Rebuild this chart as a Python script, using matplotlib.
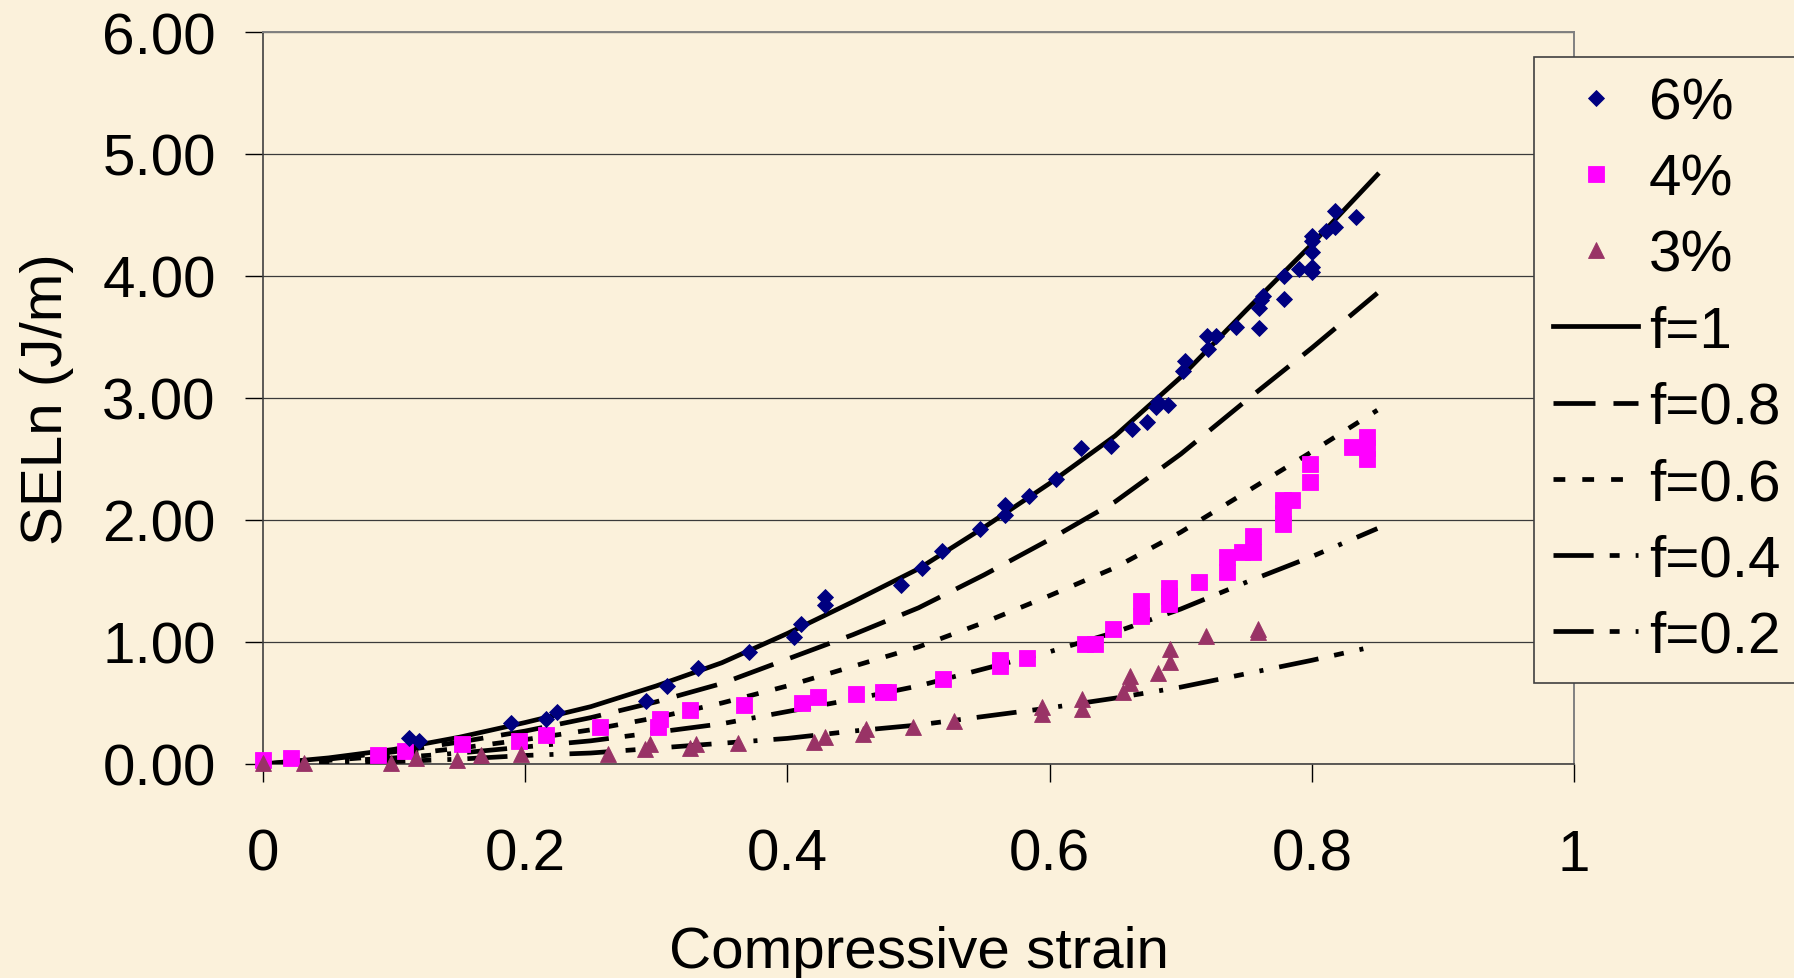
import matplotlib
matplotlib.use("Agg")
import matplotlib.pyplot as pp

# measured points, 6% series
strain_6 = [0.111, 0.119, 0.189, 0.216, 0.224, 0.292, 0.308, 0.332, 0.371, 0.405,
	0.410, 0.429, 0.429, 0.487, 0.503, 0.518, 0.547, 0.566, 0.566, 0.584,
	0.605, 0.624, 0.647, 0.663, 0.674, 0.681, 0.683, 0.690, 0.702, 0.703,
	0.720, 0.721, 0.727, 0.742, 0.760, 0.760, 0.761, 0.763, 0.779, 0.779,
	0.790, 0.800, 0.800, 0.800, 0.800, 0.800, 0.811, 0.818, 0.818, 0.834]
seln_6 = [0.21, 0.19, 0.34, 0.37, 0.43, 0.52, 0.64, 0.79, 0.92, 1.04,
	1.15, 1.30, 1.37, 1.47, 1.61, 1.75, 1.93, 2.04, 2.12, 2.20,
	2.34, 2.59, 2.61, 2.75, 2.80, 2.93, 2.97, 2.94, 3.22, 3.30,
	3.51, 3.40, 3.51, 3.58, 3.57, 3.74, 3.80, 3.84, 3.81, 4.00,
	4.06, 4.03, 4.07, 4.20, 4.29, 4.33, 4.37, 4.40, 4.53, 4.48]

# 4% series
strain_4 = [0.0, 0.021, 0.088, 0.108, 0.152, 0.195, 0.216, 0.257, 0.301, 0.303,
	0.326, 0.367, 0.411, 0.423, 0.452, 0.473, 0.477, 0.519, 0.562, 0.562,
	0.583, 0.627, 0.635, 0.648, 0.670, 0.670, 0.691, 0.691, 0.691, 0.714,
	0.735, 0.735, 0.747, 0.755, 0.755, 0.778, 0.778, 0.778, 0.785, 0.799,
	0.799, 0.831, 0.842, 0.842, 0.842]
seln_4 = [0.03, 0.05, 0.07, 0.11, 0.16, 0.19, 0.24, 0.30, 0.30, 0.37,
	0.44, 0.48, 0.50, 0.55, 0.57, 0.59, 0.59, 0.70, 0.80, 0.85,
	0.87, 0.98, 0.98, 1.11, 1.21, 1.34, 1.31, 1.38, 1.44, 1.49,
	1.57, 1.70, 1.74, 1.74, 1.87, 1.97, 2.06, 2.16, 2.16, 2.31,
	2.46, 2.60, 2.50, 2.59, 2.68]

# 3% series
strain_3 = [0.0, 0.031, 0.098, 0.117, 0.148, 0.166, 0.197, 0.263, 0.291, 0.295,
	0.326, 0.330, 0.362, 0.420, 0.429, 0.458, 0.460, 0.496, 0.527, 0.594,
	0.594, 0.625, 0.625, 0.656, 0.661, 0.661, 0.683, 0.692, 0.692, 0.719,
	0.759, 0.759]
seln_3 = [0.01, 0.01, 0.01, 0.05, 0.03, 0.07, 0.08, 0.08, 0.12, 0.16,
	0.13, 0.16, 0.17, 0.18, 0.22, 0.25, 0.29, 0.30, 0.35, 0.41,
	0.47, 0.45, 0.53, 0.59, 0.66, 0.72, 0.75, 0.84, 0.94, 1.05,
	1.08, 1.11]

# model curves
curve_strain = [0, 0.05, 0.1, 0.15, 0.2, 0.25, 0.3, 0.35, 0.4, 0.45,
	0.5, 0.55, 0.6, 0.65, 0.7, 0.75, 0.8, 0.85]
curve_f10 = [0, 0.05, 0.12, 0.22, 0.34, 0.47, 0.64, 0.83, 1.07, 1.33,
	1.60, 1.94, 2.30, 2.69, 3.17, 3.72, 4.26, 4.83]
curve_f08 = [0, 0.04, 0.10, 0.18, 0.27, 0.38, 0.51, 0.66, 0.86, 1.06,
	1.28, 1.55, 1.84, 2.15, 2.54, 2.98, 3.41, 3.86]
curve_f06 = [0, 0.03, 0.07, 0.13, 0.20, 0.28, 0.38, 0.50, 0.64, 0.80,
	0.96, 1.16, 1.38, 1.61, 1.90, 2.23, 2.56, 2.90]
curve_f04 = [0, 0.02, 0.05, 0.09, 0.14, 0.19, 0.26, 0.33, 0.43, 0.53,
	0.64, 0.78, 0.92, 1.08, 1.27, 1.49, 1.70, 1.93]
curve_f02 = [0, 0.01, 0.02, 0.04, 0.07, 0.09, 0.13, 0.17, 0.21, 0.27,
	0.32, 0.39, 0.46, 0.54, 0.63, 0.74, 0.85, 0.97]

x_ticks = [0, 0.2, 0.4, 0.6, 0.8, 1]
x_labels = ['0', '0.2', '0.4', '0.6', '0.8', '1']
y_ticks = [0, 1, 2, 3, 4, 5, 6]

W, H = 1794, 979
bg = '#FBF1DB'
lw = 3.4

pp.rcParams['font.family'] = ['Liberation Sans', 'DejaVu Sans']

fig = pp.figure(figsize=(W / 100, H / 100), dpi=100, facecolor=bg)
ax = fig.add_axes([263 / W, 1 - 765 / H, (1574 - 263) / W, (765 - 33) / H])
ax.set_facecolor('none')

dash_dot_dot = (0, (8.5, 3.4, 2.1, 3.4, 0.85, 3.4))

# fitted curves
ax.plot(curve_strain, curve_f10, color='black', lw=lw, ls='-', label='f=1', zorder=3)
ax.plot(curve_strain, curve_f08, color='black', lw=lw, ls=(0, (8.9, 3.8)), label='f=0.8', zorder=3)
ax.plot(curve_strain, curve_f06, color='black', lw=lw, ls=(0, (2.5, 3.6)), label='f=0.6', zorder=3)
ax.plot(curve_strain, curve_f04, color='black', lw=lw, ls=dash_dot_dot, label='f=0.4', zorder=3)
ax.plot(curve_strain, curve_f02, color='black', lw=lw, ls=dash_dot_dot, label='f=0.2', zorder=3)

# measurements
ax.plot(strain_6, seln_6, ls='none', marker='D', ms=8.4, color='#000080', mew=0.6, label='6%', zorder=5, clip_on=False)
ax.plot(strain_4, seln_4, ls='none', marker='s', ms=11.2, color='#FF00FF', mew=0.6, label='4%', zorder=4, clip_on=False)
ax.plot(strain_3, seln_3, ls='none', marker='^', ms=11.8, color='#993366', mew=0.6, label='3%', zorder=4, clip_on=False)

ax.set_xlim(0, 1)
ax.set_ylim(0, 6)
ax.set_xticks(x_ticks)
ax.set_xticklabels(x_labels)
ax.set_yticks(y_ticks)
ax.set_yticklabels([f'{v:.2f}' for v in y_ticks])
ax.tick_params(axis='both', direction='out', length=13, width=1, labelsize=42, colors='black')
ax.tick_params(axis='y', pad=21)
ax.tick_params(axis='x', pad=33)

ax.set_axisbelow(True)
ax.yaxis.grid(True, color='#3a3a3a', lw=0.9)
for side in ['top', 'right']:
	ax.spines[side].set_color('#808080')
	ax.spines[side].set_linewidth(1.4)
for side in ['left', 'bottom']:
	ax.spines[side].set_color('#404040')
	ax.spines[side].set_linewidth(1.2)

fig.text(918.5 / W, 1 - 968 / H, 'Compressive strain', ha='center', va='baseline', fontsize=42)
fig.text(47 / W, 1 - 399 / H, 'SELn (J/m)', rotation=90, ha='center', va='center', fontsize=42)

handles, labels = ax.get_legend_handles_labels()
order = ['6%', '4%', '3%', 'f=1', 'f=0.8', 'f=0.6', 'f=0.4', 'f=0.2']
hmap = dict(zip(labels, handles))
leg = ax.legend([hmap[k] for k in order], order, loc='upper left',
	bbox_to_anchor=(1534 / W, 1 - 58 / H), bbox_transform=fig.transFigure,
	fontsize=42, fancybox=False, edgecolor='#404040', facecolor=bg, framealpha=1,
	borderpad=0.33, labelspacing=0.38, handlelength=1.46, handletextpad=0.18,
	borderaxespad=0, numpoints=1)
leg.get_frame().set_linewidth(1.2)
leg.set_zorder(10)

fig.savefig('out.png', dpi=100, facecolor=bg)
